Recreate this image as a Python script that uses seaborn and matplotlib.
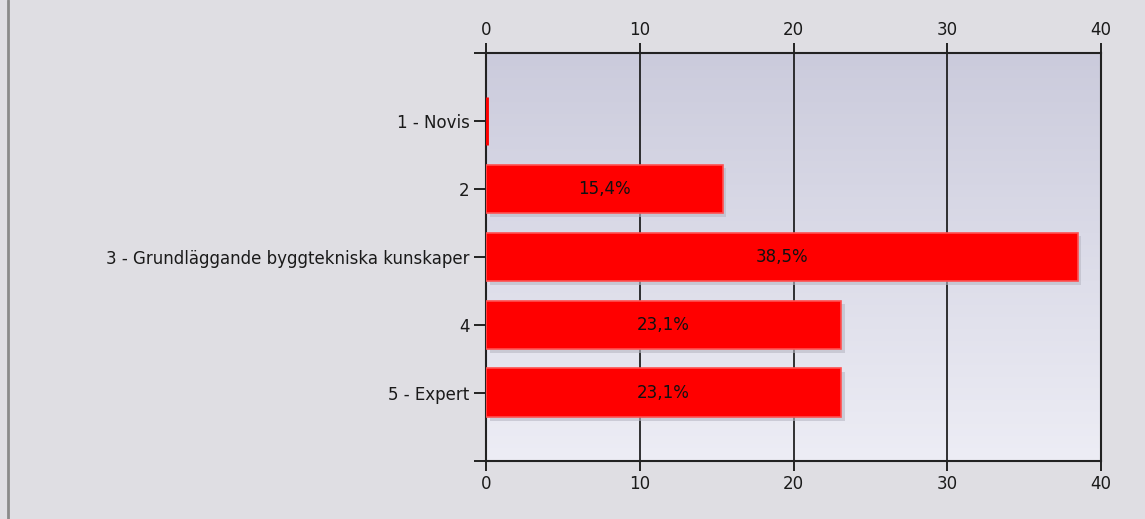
import numpy as np
import matplotlib
matplotlib.use("Agg")
from matplotlib import pyplot as plt
from matplotlib import patheffects as pe
from matplotlib.colors import LinearSegmentedColormap
import seaborn as sns

# Svarsfördelning (procent)
categories = ["1 - Novis", "2", "3 - Grundläggande byggtekniska kunskaper", "4", "5 - Expert"]
values = [0.0, 15.4, 38.5, 23.1, 23.1]
value_labels = ["", "15,4%", "38,5%", "23,1%", "23,1%"]
x_ticks = [0, 10, 20, 30, 40]

sns.set_theme(style="white")
plt.rcParams["font.family"] = ["DejaVu Sans"]
fs = 12

fig = plt.figure(figsize=(11.45, 5.19), dpi=100, facecolor="#dfdee3")
ax = fig.add_axes([0.4245, 0.1118, 0.5371, 0.7861])

# gradient bakgrund i plotytan
grad = LinearSegmentedColormap.from_list("bg", ["#cbcbdc", "#ededf5"])
ax.imshow(np.linspace(0, 1, 256).reshape(-1, 1), cmap=grad, aspect="auto",
          extent=[0, 40, 5, -1], zorder=0)

sns.barplot(x=values, y=categories, color="#ff0000", width=0.72, orient="h",
            saturation=1, edgecolor="#ff5050", linewidth=1.2, ax=ax, zorder=3)
for bar, v in zip(ax.patches, values):
    bar.set_path_effects([pe.SimplePatchShadow(offset=(2.5, -2.5), shadow_rgbFace="#b8b8c4", alpha=0.6),
                          pe.Normal()])
    if v == 0:
        # nollstapeln syns som ett tunt rött streck
        bar.set_edgecolor("#ff0000")
        bar.set_linewidth(3.5)

ax.bar_label(ax.containers[0], labels=value_labels, label_type="center",
             fontsize=fs, color="#111111")

ax.set_xlim(0, 40)
ax.set_ylim(5, -1)
ax.set_xticks(x_ticks)
ax.set_xticklabels([str(t) for t in x_ticks])
ax.set_yticks([-1, 5], minor=True)
ax.xaxis.grid(True, color="#111111", linewidth=1.2, zorder=1)
ax.set_axisbelow(True)
ax.set_xlabel("")
ax.set_ylabel("")

for s in ax.spines.values():
    s.set_visible(True)
    s.set_color("#222222")
    s.set_linewidth(1.5)
    s.set_zorder(2)

ax.tick_params(axis="x", which="both", top=True, bottom=True, labeltop=True, labelbottom=True,
               direction="out", length=7, width=1.4, color="#222222", pad=3,
               labelsize=fs, labelcolor="#1a1a1a")
ax.tick_params(axis="y", which="both", left=True, direction="out", length=9, width=1.4,
               color="#222222", pad=3, labelsize=fs, labelcolor="#1a1a1a")

# grå kantlinje till vänster
fig.add_artist(plt.Line2D([7.5 / 1145, 7.5 / 1145], [0, 1], transform=fig.transFigure,
                          color="#8a8a8a", linewidth=2))

fig.savefig("out.png", dpi=100, facecolor=fig.get_facecolor())
